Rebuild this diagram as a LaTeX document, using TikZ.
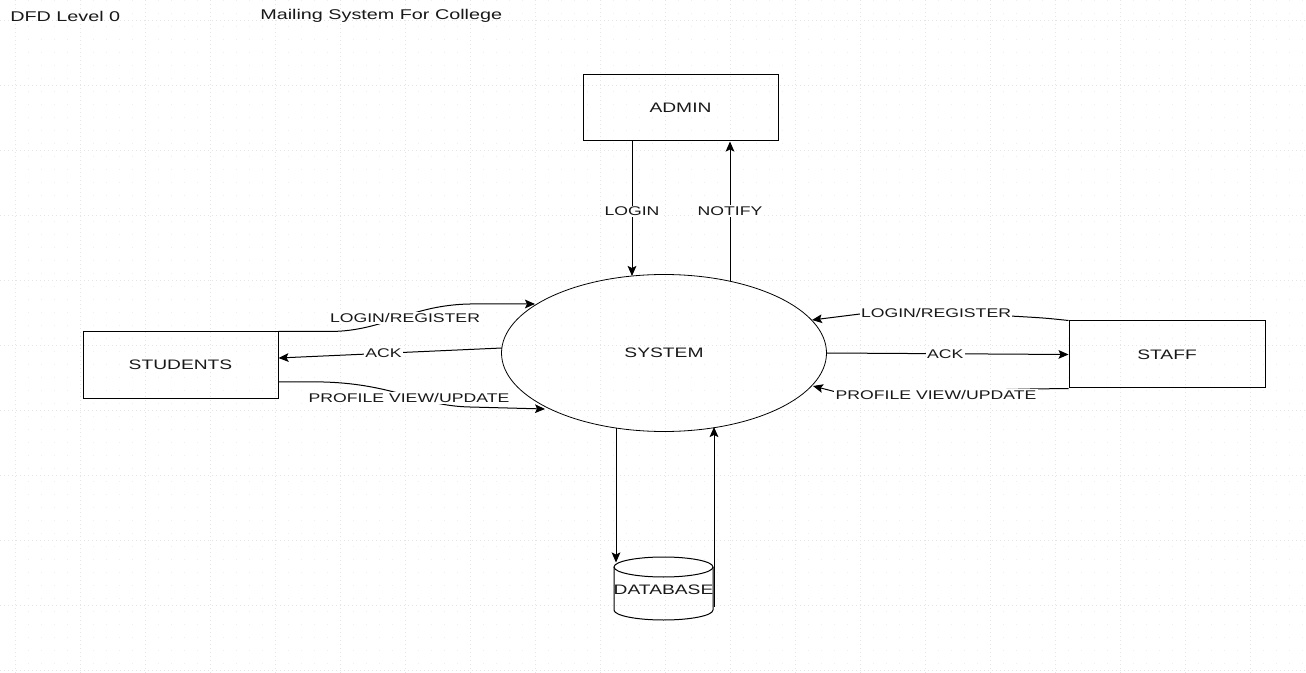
\documentclass[tikz,border=0pt]{standalone}
\usepackage{fontspec}
\setmainfont{Liberation Sans}[FakeStretch=1.4]
\usetikzlibrary{shapes.geometric,arrows.meta,calc}
\begin{document}
\begin{tikzpicture}[x=0.75pt,y=-0.75pt,
  ent/.style={draw, line width=0.75pt, rectangle, minimum width=146.25pt, minimum height=49.5pt, inner sep=0pt, font=\fontsize{10.3}{12}\selectfont, text=black!90},
  proc/.style={draw, ellipse, line width=0.6pt, minimum width=243.75pt, minimum height=117.75pt, inner sep=0pt, font=\fontsize{10.3}{12}\selectfont, text=black!90},
  flow/.style={line width=0.75pt, -{Stealth[length=7.5pt,width=6.5pt,inset=1.5pt]}},
  plain/.style={line width=0.75pt},
  lbl/.style={fill=white, inner sep=1pt, font=\fontsize{9.45}{11}\selectfont, text=black!90},
  ttl/.style={anchor=west, inner sep=0pt, font=\fontsize{10.6}{12}\selectfont, text=black!90},
  gridminor/.style={gray!12, line width=0.5pt, dash pattern=on 0.75pt off 9pt},
  gridmajor/.style={gray!20, line width=0.5pt, dash pattern=on 0.75pt off 2.25pt}
]
\useasboundingbox (0,0) rectangle (1306,673);
\fill[white] (0,0) rectangle (1306,673);
% background grid
\foreach \x in {15,80,...,1306} \draw[gridmajor] (\x,0) -- (\x,673);
\foreach \y in {20,85,...,673} \draw[gridmajor] (0,\y) -- (1306,\y);
\foreach \x in {28,41,54,67} {\foreach \k in {0,65,...,1300} \draw[gridminor] (\x+\k,0) -- (\x+\k,673);}

% titles
\node[ttl] (t1) at (10,16) {DFD Level 0};
\node[ttl] (t2) at (260,16) {Mailing System For College};

% entities and process
\node[ent] (admin) at (680.5,108) {ADMIN};
\node[ent] (studs) at (180.5,365) {STUDENTS};
\node[ent, minimum width=147pt, minimum height=50.25pt] (staff) at (1167,354.5) {STAFF};
\node[proc] (sys) at (664,353) {SYSTEM};

% database (cylinder)
\node[inner sep=0pt, minimum width=74.25pt, minimum height=47.25pt] (db) at (663.5,588.5) {};
\draw[plain] ($(db.center)+(0,-21.5)$) ellipse [x radius=49.5, y radius=10];
\draw[plain] ($(db.center)+(-49.5,-21.5)$) -- ($(db.center)+(-49.5,21.5)$)
  arc[start angle=180, end angle=0, x radius=49.5, y radius=10]
  -- ($(db.center)+(49.5,-21.5)$);
\node[font=\fontsize{10.3}{12}\selectfont, text=black!90, inner sep=0pt] (dbl) at ($(db.center)+(0,1)$) {DATABASE};

% admin flows
\draw[flow] ($(admin.south)+(-48.5,0)$) -- node[lbl, pos=0.52] (llogin) {LOGIN} ($(sys.center)+(-32,-77)$);
\draw[flow] ($(sys.center)+(66,-72)$) -- node[lbl, pos=0.5] (lnotify) {NOTIFY} ($(admin.south)+(49.5,0)$);

% student flows
\draw[flow] (studs.north east) -- ++(52,0) .. controls (385,331) and (410,305) .. (470,304) -- ($(sys.center)+(-129,-49)$);
\node[lbl] (lsreg) at (405,318) {LOGIN/REGISTER};
\draw[flow] ($(sys.center)+(-162,-5)$) -- node[lbl, pos=0.53] (lsack) {ACK} ($(studs.east)+(0,-7)$);
\draw[flow] ($(studs.east)+(0,17)$) -- ++(45,0) .. controls (395,384) and (420,406) .. (470,407) -- ($(sys.center)+(-119,56)$);
\node[lbl] (lsprof) at (409,398) {PROFILE VIEW/UPDATE};

% staff flows
\draw[flow] (staff.north west) .. controls (1045,318) .. (1010,316) -- (860,314) -- ($(sys.center)+(148,-33)$);
\node[lbl] (lfreg) at (936,313) {LOGIN/REGISTER};
\draw[flow] (sys.east) -- node[lbl, pos=0.49] (lfack) {ACK} (staff.west);
\draw[flow] (staff.south west) -- (1030,389) -- (840,393) -- ($(sys.center)+(149,33)$);
\node[lbl] (lfprof) at (936,395) {PROFILE VIEW/UPDATE};

% database flows
\draw[flow] ($(sys.center)+(-48,75)$) -- ($(db.center)+(-47.5,-26)$);
\draw[flow] ($(db.center)+(50.5,18)$) -- ($(sys.center)+(50,74)$);
\end{tikzpicture}
\end{document}
